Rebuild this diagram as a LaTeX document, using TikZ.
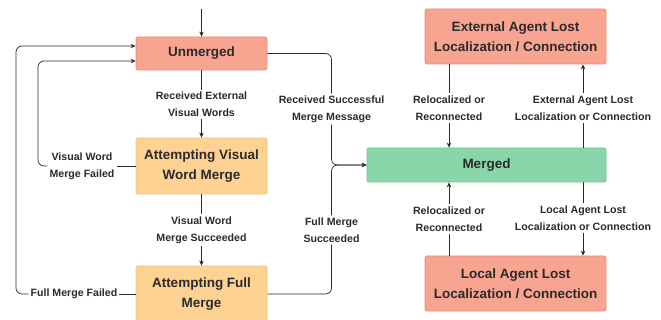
\documentclass[tikz,border=0pt]{standalone}
\usepackage{fontspec}
\setmainfont{Liberation Sans}
\usetikzlibrary{arrows.meta}
\definecolor{salmon}{HTML}{F7A490}
\definecolor{salmonedge}{HTML}{E58F7C}
\definecolor{peach}{HTML}{FDD293}
\definecolor{peachedge}{HTML}{F0BF76}
\definecolor{mint}{HTML}{8AD6AB}
\definecolor{mintedge}{HTML}{72C494}
\definecolor{ink}{HTML}{2B2B2B}

\begin{document}
\begin{tikzpicture}[x=1pt, y=-1pt,
	state/.style={draw, rounded corners=2pt, line width=0.8pt, align=center, text=ink,
		font=\fontsize{13.5}{20}\selectfont\bfseries, inner sep=0pt},
	lostbox/.style={state, fill=salmon, draw=salmonedge, minimum width=181pt, minimum height=55pt},
	trylabel/.style={fill=white, align=center, text=ink, inner sep=2pt,
		font=\fontsize{10.6}{17}\selectfont\bfseries},
	link/.style={draw=ink, line width=0.7pt},
	tip/.style={-{Stealth[length=5pt, width=4.5pt]}}]
			%%%%% START %%%%%
			
			\useasboundingbox (0, 0) rectangle (661, 320);
			
			% left side states
			\node[state, fill=salmon, draw=salmonedge, minimum width=131pt, minimum height=33pt] (unmerged) at (201.5, 53.5) {Unmerged};
			\node[state, fill=peach, draw=peachedge, minimum width=131pt, minimum height=56pt] (visual) at (201.5, 166) {Attempting Visual\\Word Merge};
			\node[state, fill=peach, draw=peachedge, minimum width=131pt, minimum height=56pt] (full) at (201.5, 294) {Attempting Full\\Merge};
			
			% right side states
			\node[state, fill=mint, draw=mintedge, minimum width=239pt, minimum height=34pt] (merged) at (486.5, 165) {Merged};
			\node[lostbox] (extlost) at (515.5, 36.5) {External Agent Lost\\Localization / Connection};
			\node[lostbox] (loclost) at (515.5, 283.5) {Local Agent Lost\\Localization / Connection};
			
			% entry
			\coordinate (start) at (201.5, 9);
			\draw[link, tip] (start) -- (unmerged);
			
			% transition labels
			\node[trylabel] (recvwords) at (201.5, 104.5) {Received External\\Visual Words};
			\node[trylabel] (vwok) at (201.5, 230) {Visual Word\\Merge Succeeded};
			\node[trylabel] (vwfail) at (82, 166) {Visual Word\\Merge Failed};
			\node[trylabel] (fullfail) at (74, 294) {Full Merge Failed};
			\node[trylabel] (recvmsg) at (331.5, 109) {Received Successful\\Merge Message};
			\node[trylabel] (fullok) at (331.5, 230) {Full Merge\\Succeeded};
			\node[trylabel] (extreloc) at (449, 108) {Relocalized or\\Reconnected};
			\node[trylabel] (extlostlbl) at (583, 108) {External Agent Lost\\Localization or Connection};
			\node[trylabel] (locreloc) at (449, 219) {Relocalized or\\Reconnected};
			\node[trylabel] (loclostlbl) at (583, 218) {Local Agent Lost\\Localization or Connection};
			
			% unmerged -> visual -> full
			\draw[link] (unmerged) -- (recvwords);
			\draw[link, tip] (recvwords) -- (visual);
			\draw[link] (visual) -- (vwok);
			\draw[link, tip] (vwok) -- (full);
			
			% failures back to unmerged
			\draw[link] (visual.west) -- (vwfail);
			\draw[link, tip, rounded corners=6pt] (vwfail.west) -| (38, 61) -- ([yshift=-7.5pt]unmerged.west);
			\draw[link] (full.west) -- (fullfail);
			\draw[link, tip, rounded corners=6pt] (fullfail.west) -| (16, 46) -- ([yshift=7.5pt]unmerged.west);
			
			% successes into merged
			\draw[link, rounded corners=6pt] (unmerged.east) -| (recvmsg.north);
			\draw[link, tip, rounded corners=6pt] (recvmsg.south) |- (merged.west);
			\draw[link, rounded corners=6pt] (full.east) -| (fullok.south);
			\draw[link, tip, rounded corners=6pt] (fullok.north) |- (merged.west);
			
			% external agent
			\draw[link] (extreloc |- extlost.south) -- (extreloc);
			\draw[link, tip] (extreloc) -- (extreloc |- merged.north);
			\draw[link] (extlostlbl |- merged.north) -- (extlostlbl);
			\draw[link, tip] (extlostlbl) -- (extlostlbl |- extlost.south);
			
			% local agent
			\draw[link] (locreloc |- loclost.north) -- (locreloc);
			\draw[link, tip] (locreloc) -- (locreloc |- merged.south);
			\draw[link] (loclostlbl |- merged.south) -- (loclostlbl);
			\draw[link, tip] (loclostlbl) -- (loclostlbl |- loclost.north);
			
			%%%%% END %%%%%
		\end{tikzpicture}
\end{document}
